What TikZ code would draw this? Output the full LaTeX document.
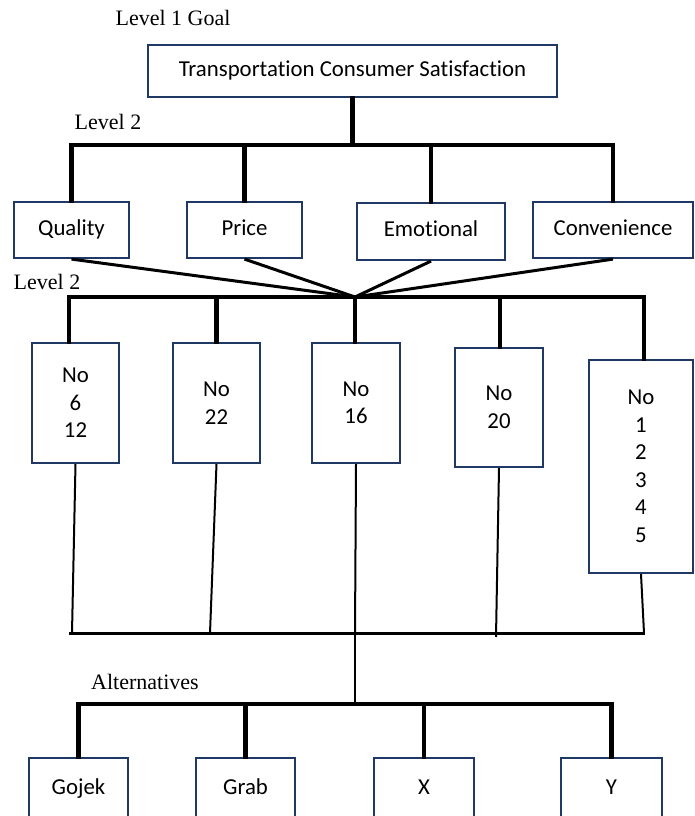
\documentclass[tikz,border=0pt]{standalone}
\usepackage{fontspec}
\setmainfont{Carlito}[Ligatures=NoCommon]
\newfontfamily\lblfont{Liberation Serif}
\definecolor{boxblue}{RGB}{31,56,100}
\begin{document}
\begin{tikzpicture}[x=1pt,y=-1pt,
  box/.style={draw=boxblue, line width=2.2pt, inner sep=0pt, align=center,
              font=\fontsize{22.8}{27.5}\selectfont},
  one/.style={text height=15pt, text depth=5pt},
  lbl/.style={font=\lblfont\fontsize{22}{26}\selectfont, inner sep=0pt},
  busline/.style={line width=4.5pt, line cap=rect},
  fanline/.style={line width=3pt},
  thinline/.style={line width=2pt},
  midline/.style={line width=3pt}]
\clip (0,0) rectangle (694,816);
\fill[white] (0,0) rectangle (694,816);
% labels
\node[lbl] (l1) at (173,18) {Level 1 Goal};
\node[lbl] (l2) at (108,122) {Level 2};
\node[lbl] (l3) at (47,282) {Level 2};
\node[lbl] (l4) at (145,682) {Alternatives};
% goal
\node[box, one, minimum width=409pt, minimum height=52pt] (top) at (352.5,71) {Transportation Consumer Satisfaction};
% criteria
\node[box, one, minimum width=115pt, minimum height=56pt] (q) at (71.5,230) {Quality};
\node[box, one, minimum width=115pt, minimum height=56pt] (p) at (244.5,230) {Price};
\node[box, one, minimum width=148pt, minimum height=57pt] (e) at (431,231.5) {Emotional};
\node[box, one, minimum width=160pt, minimum height=56pt] (c) at (613,230) {Convenience};
% sub-criteria
\node[box, minimum width=87pt, minimum height=120pt] (n1) at (75.5,403) {No\\6\\12};
\node[box, minimum width=87pt, minimum height=120pt] (n2) at (216.5,403) {No\\22};
\node[box, minimum width=88pt, minimum height=120pt] (n3) at (356,403) {No\\16};
\node[box, minimum width=88pt, minimum height=119pt] (n4) at (499,407.5) {No\\20};
\node[box, minimum width=104pt, minimum height=213pt] (n5) at (641,466.5) {No\\1\\2\\3\\4\\5};
% alternatives
\node[box, one, minimum width=99pt, minimum height=62pt] (g) at (78.5,789) {Gojek};
\node[box, one, minimum width=99pt, minimum height=62pt] (gr) at (245.5,789) {Grab};
\node[box, one, minimum width=100pt, minimum height=62pt] (xa) at (424,789) {X};
\node[box, one, minimum width=101pt, minimum height=62pt] (ya) at (611.5,789) {Y};
% coordinates
\coordinate (b1l) at (72,145);
\coordinate (b1r) at (613,145);
\coordinate (hub) at (355,297);
\coordinate (b2l) at (69,297);
\coordinate (b2r) at (644,297);
\coordinate (d4) at (500,297);
\coordinate (e1) at (72,633);
\coordinate (e2) at (210,633);
\coordinate (e3) at (355,633);
\coordinate (e4) at (496,637);
\coordinate (e5) at (644,633);
\coordinate (b3l) at (69,633);
\coordinate (b3r) at (645,633);
\coordinate (j4) at (355,704);
\coordinate (b4l) at (78.5,704);
\coordinate (b4r) at (611.5,704);
% goal to criteria
\draw[busline] (top.south) -- (top.south |- b1l);
\draw[busline] (b1l) -- (b1r);
\draw[busline] (q.north |- b1l) -- (q.north);
\draw[busline] (p.north |- b1l) -- (p.north);
\draw[busline] (e.north |- b1l) -- (e.north);
\draw[busline] (c.north |- b1l) -- (c.north);
% fan
\draw[fanline] (q.south) -- (hub);
\draw[fanline] (p.south) -- (hub);
\draw[fanline] (e.south) -- (hub);
\draw[fanline] (c.south) -- (hub);
% bus 2
\draw[busline] (b2l) -- (b2r);
\draw[busline] (b2l) -- (b2l |- n1.north);
\draw[busline] (n2.north |- b2l) -- (n2.north);
\draw[busline] (hub) -- (hub |- n3.north);
\draw[busline] (d4) -- (d4 |- n4.north);
\draw[busline] (b2r) -- (b2r |- n5.north);
% down from sub-criteria
\draw[thinline] (n1.south) -- (e1);
\draw[thinline] (n2.south) -- (e2);
\draw[thinline] (n3.south) -- (e3);
\draw[thinline] (n4.south) -- (e4);
\draw[thinline] (n5.south) -- (e5);
\draw[midline] (b3l) -- (b3r);
\draw[thinline] (e3) -- (j4);
% alternatives bus
\draw[busline] (b4l) -- (b4r);
\draw[busline] (g.north |- b4l) -- (g.north);
\draw[busline] (gr.north |- b4l) -- (gr.north);
\draw[busline] (xa.north |- b4l) -- (xa.north);
\draw[busline] (ya.north |- b4l) -- (ya.north);
\end{tikzpicture}
\end{document}
